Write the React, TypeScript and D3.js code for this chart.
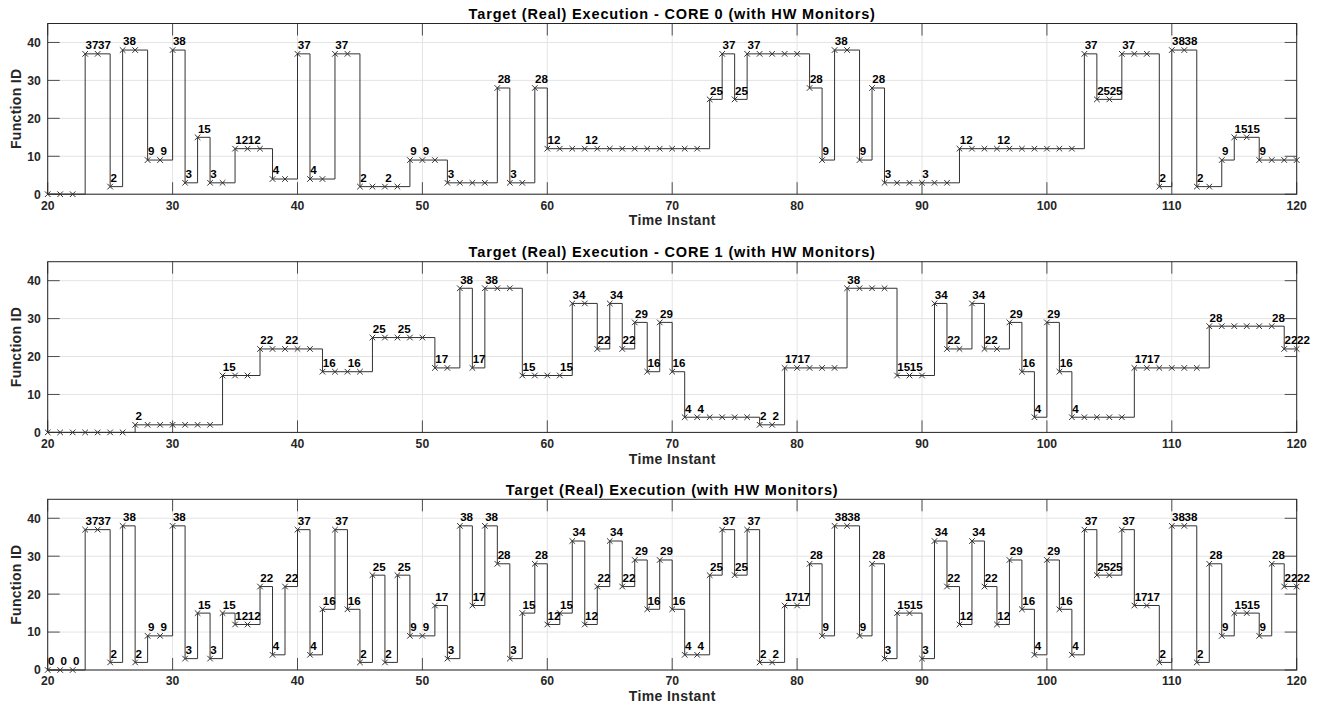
import React from "react";
import * as d3 from "d3";

// ---- data ----
const timeStart = 20;
const timeEnd = 120;
const xTicks = [20, 30, 40, 50, 60, 70, 80, 90, 100, 110, 120];
const yTicks = [0, 10, 20, 30, 40];

const core0Values = [
  0, 0, 0, 37, 37, 2, 38, 38, 9, 9,
  38, 3, 15, 3, 3, 12, 12, 12, 4, 4,
  37, 4, 4, 37, 37, 2, 2, 2, 2, 9,
  9, 9, 3, 3, 3, 3, 28, 3, 3, 28,
  12, 12, 12, 12, 12, 12, 12, 12, 12, 12,
  12, 12, 12, 25, 37, 25, 37, 37, 37, 37,
  37, 28, 9, 38, 38, 9, 28, 3, 3, 3,
  3, 3, 3, 12, 12, 12, 12, 12, 12, 12,
  12, 12, 12, 37, 25, 25, 37, 37, 37, 2,
  38, 38, 2, 2, 9, 15, 15, 9, 9, 9,
  9,
];
const core0Labeled = [
  23, 24, 25, 26, 28, 29, 30, 31, 32, 33, 35, 36, 38, 40, 41, 43, 45, 47, 49, 50,
  52, 56, 57, 59, 60, 63, 73, 74, 75, 76, 81, 82, 83, 85, 86, 87, 90, 93, 96,
  103, 104, 105, 106, 109, 110, 111, 112, 114, 115, 116, 117,
];

const core1Values = [
  0, 0, 0, 0, 0, 0, 0, 2, 2, 2,
  2, 2, 2, 2, 15, 15, 15, 22, 22, 22,
  22, 22, 16, 16, 16, 16, 25, 25, 25, 25,
  25, 17, 17, 38, 17, 38, 38, 38, 15, 15,
  15, 15, 34, 34, 22, 34, 22, 29, 16, 29,
  16, 4, 4, 4, 4, 4, 4, 2, 2, 17,
  17, 17, 17, 17, 38, 38, 38, 38, 15, 15,
  15, 34, 22, 22, 34, 22, 22, 29, 16, 4,
  29, 16, 4, 4, 4, 4, 4, 17, 17, 17,
  17, 17, 17, 28, 28, 28, 28, 28, 28, 22,
  22,
];
const core1Labeled = [
  27, 34, 37, 39, 42, 44, 46, 48, 51, 53, 54, 55, 58, 61, 62, 64, 65, 66, 67, 68,
  69, 70, 71, 72, 77, 78, 79, 80, 84, 88, 89, 91, 92, 94, 95, 97, 98, 99, 100,
  101, 102, 107, 108, 113, 118, 119, 120,
];

const combinedValues = [
  0, 0, 0, 37, 37, 2, 38, 2, 9, 9,
  38, 3, 15, 3, 15, 12, 12, 22, 4, 22,
  37, 4, 16, 37, 16, 2, 25, 2, 25, 9,
  9, 17, 3, 38, 17, 38, 28, 3, 15, 28,
  12, 15, 34, 12, 22, 34, 22, 29, 16, 29,
  16, 4, 4, 25, 37, 25, 37, 2, 2, 17,
  17, 28, 9, 38, 38, 9, 28, 3, 15, 15,
  3, 34, 22, 12, 34, 22, 12, 29, 16, 4,
  29, 16, 4, 37, 25, 25, 37, 17, 17, 2,
  38, 38, 2, 28, 9, 15, 15, 9, 28, 22,
  22,
];
const combinedLabeled = d3.range(timeStart, timeEnd + 1);

const panelTitles = [
  "Target (Real) Execution - CORE 0 (with HW Monitors)",
  "Target (Real) Execution - CORE 1 (with HW Monitors)",
  "Target (Real) Execution (with HW Monitors)",
];

// ---- layout ----
const W = 1324;
const H = 708;
const LEFT = 47.7;
const RIGHT = 1296.7;
const PANEL_TOPS = [23.5, 261.7, 499.3];
const PANEL_H = 170.7;
const FONT = "'Liberation Sans', Arial, Helvetica, sans-serif";
const AX = "#262626";
const LINE = "#333333";
const GRID = "#e4e4e4";
const TICK_LEN = 12;

type PanelProps = {
  top: number;
  title: string;
  values: number[];
  labeled: number[];
};

function Panel({ top, title, values, labeled }: PanelProps) {
  const bottom = top + PANEL_H;
  const x = d3.scaleLinear().domain([timeStart, timeEnd]).range([LEFT, RIGHT]);
  const y = d3.scaleLinear().domain([0, 45]).range([bottom, top]);
  const pts: [number, number][] = values.map((v, i) => [timeStart + i, v]);
  const line = d3
    .line<[number, number]>()
    .x((d) => x(d[0]))
    .y((d) => y(d[1]))
    .curve(d3.curveStepAfter);
  const labelSet = new Set(labeled);
  const m = 2.8;
  return (
    <g>
      {/* grid */}
      {xTicks.map((t) => (
        <line key={"gx" + t} x1={x(t)} x2={x(t)} y1={top} y2={bottom} stroke={GRID} strokeWidth={1} />
      ))}
      {yTicks.map((t) => (
        <line key={"gy" + t} x1={LEFT} x2={RIGHT} y1={y(t)} y2={y(t)} stroke={GRID} strokeWidth={1} />
      ))}
      {/* ticks */}
      {xTicks.map((t) => (
        <g key={"tx" + t}>
          <line x1={x(t)} x2={x(t)} y1={bottom} y2={bottom - TICK_LEN} stroke={AX} strokeWidth={0.8} />
          <line x1={x(t)} x2={x(t)} y1={top} y2={top + TICK_LEN} stroke={AX} strokeWidth={0.8} />
          <text
            x={x(t)}
            y={bottom + 15.3}
            textAnchor="middle"
            fontFamily={FONT}
            fontWeight="bold"
            fontSize={12.2}
            fill={AX}
          >
            {t}
          </text>
        </g>
      ))}
      {yTicks.map((t) => (
        <g key={"ty" + t}>
          <line x1={LEFT} x2={LEFT + TICK_LEN} y1={y(t)} y2={y(t)} stroke={AX} strokeWidth={0.8} />
          <line x1={RIGHT} x2={RIGHT - TICK_LEN} y1={y(t)} y2={y(t)} stroke={AX} strokeWidth={0.8} />
          <text
            x={LEFT - 6.8}
            y={y(t) + 4.4}
            textAnchor="end"
            fontFamily={FONT}
            fontWeight="bold"
            fontSize={12.2}
            fill={AX}
          >
            {t}
          </text>
        </g>
      ))}
      {/* box */}
      <rect x={LEFT} y={top} width={RIGHT - LEFT} height={PANEL_H} fill="none" stroke={AX} strokeWidth={1} />
      {/* stairs */}
      <path d={line(pts) || ""} fill="none" stroke={LINE} strokeWidth={1} />
      {/* markers */}
      {pts.map(([t, v]) => (
        <path
          key={"m" + t}
          d={`M${x(t) - m},${y(v) - m}L${x(t) + m},${y(v) + m}M${x(t) - m},${y(v) + m}L${x(t) + m},${y(v) - m}`}
          stroke={LINE}
          strokeWidth={1}
          fill="none"
        />
      ))}
      {/* value labels */}
      {pts
        .filter(([t]) => labelSet.has(t))
        .map(([t, v]) => (
          <text
            key={"l" + t}
            x={x(t) + 0.3}
            y={y(v) - 4.6}
            fontFamily={FONT}
            fontWeight="bold"
            fontSize={11.6}
            fill="#000"
          >
            {v}
          </text>
        ))}
      {/* title */}
      <text
        x={(LEFT + RIGHT) / 2}
        y={top - 4.3}
        textAnchor="middle"
        fontFamily={FONT}
        fontWeight="bold"
        fontSize={14.5}
        letterSpacing={0.85}
        fill="#000"
      >
        {title}
      </text>
      {/* x label */}
      <text
        x={(LEFT + RIGHT) / 2}
        y={bottom + 31.2}
        textAnchor="middle"
        fontFamily={FONT}
        fontWeight="bold"
        fontSize={14}
        letterSpacing={0.4}
        fill={AX}
      >
        Time Instant
      </text>
      {/* y label */}
      <text
        transform={`translate(21,${(top + bottom) / 2}) rotate(-90)`}
        textAnchor="middle"
        fontFamily={FONT}
        fontWeight="bold"
        fontSize={14}
        letterSpacing={0.3}
        fill={AX}
      >
        Function ID
      </text>
    </g>
  );
}

export default function App() {
  const panels = [
    { values: core0Values, labeled: core0Labeled },
    { values: core1Values, labeled: core1Labeled },
    { values: combinedValues, labeled: combinedLabeled },
  ];
  return (
    <svg
      width={W}
      height={H}
      style={{ position: "absolute", left: 0, top: 0, background: "#fff" }}
    >
      <rect x={0} y={0} width={W} height={H} fill="#fff" />
      {panels.map((p, i) => (
        <Panel key={i} top={PANEL_TOPS[i]} title={panelTitles[i]} values={p.values} labeled={p.labeled} />
      ))}
    </svg>
  );
}
